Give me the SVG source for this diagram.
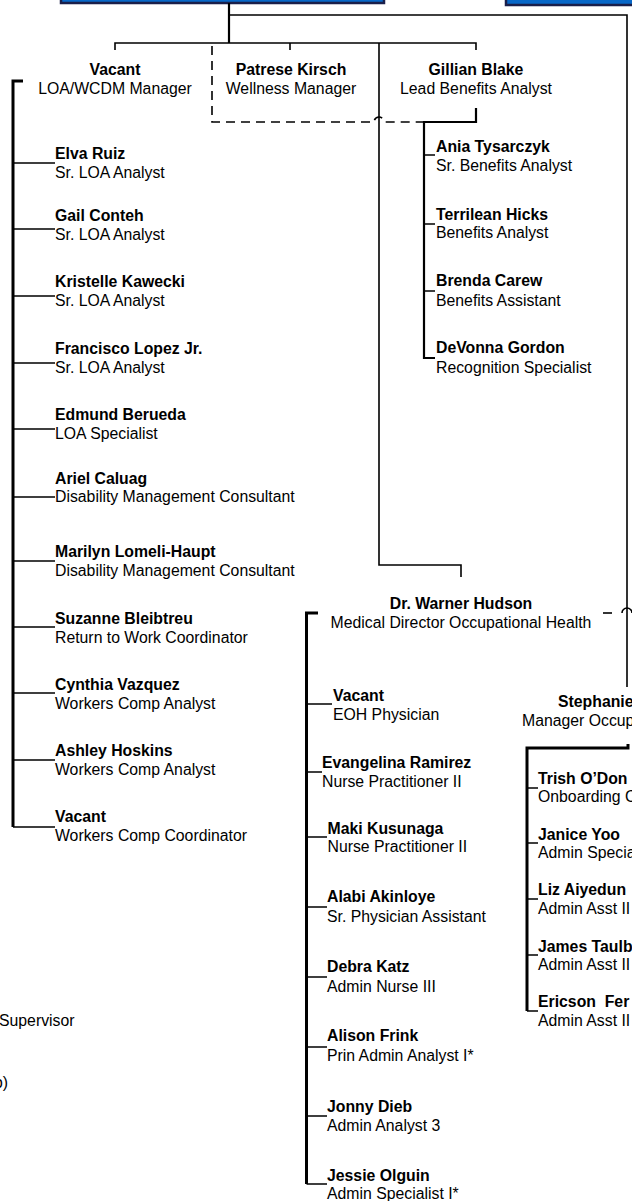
<svg xmlns="http://www.w3.org/2000/svg" width="632" height="1201" viewBox="0 0 632 1201">
<style>
text{font-family:"Liberation Sans",Arial,sans-serif;font-size:15.8px;fill:#000;white-space:pre}
.n{font-weight:bold}
.c{text-anchor:middle}
.ln{fill:none;stroke:#000;stroke-width:1.6}
.th{fill:none;stroke:#000;stroke-width:3}
.md{fill:none;stroke:#000;stroke-width:2.2}
.ds{fill:none;stroke:#000;stroke-width:1.6;stroke-dasharray:9 6}
.box{fill:#0868C8;stroke:#1a1f4a;stroke-width:2.5}
</style>
<rect width="632" height="1201" fill="#fff"/>
<g id="box-top-left"><rect class="box" x="61" y="-20" width="323" height="23"/></g>
<g id="box-top-right"><rect class="box" x="506" y="-20" width="140" height="25"/></g>
<g id="connectors">
<path class="md" d="M229,3 V43"/>
<path class="ln" d="M229,15 H627 V687"/>
<path class="ln" d="M115,50 V43 H476 V50"/>
<path class="ln" d="M290,43 V50"/>
<path class="ln" d="M379,43 V565 H461 V577"/>
<path class="ds" d="M212,46 V122 H374 A5,5 0 0 1 384,122 H424"/>
<path class="md" d="M476,108 V122 H424 V358 H435"/>
<path class="ln" d="M424,155 H435 M424,224 H435 M424,291 H435"/>
<path class="th" d="M23,81 H13 V827"/>
<path class="ln" d="M13,827 H55 M13,163 H55 M13,229 H55 M13,296 H55 M13,363 H55 M13,429 H55 M13,497 H55 M13,561 H55 M13,627 H55 M13,693 H55 M13,760 H55"/>
<path class="th" d="M318,613 H306.5 V1184"/>
<path class="ln" d="M306.5,1184 H327 M306.5,704 H332 M306.5,772 H322 M306.5,837 H327 M306.5,907 H327 M306.5,977 H327 M306.5,1047 H327 M306.5,1116 H327"/>
<path class="ds" d="M603,613 H617"/>
<path class="ln" d="M622,613 A5,5 0 0 1 632,613"/>
<path class="th" d="M628,744 V748 H527 V1011"/>
<path class="ln" d="M527,1011 H538 M527,788 H538 M527,843 H538 M527,899 H538 M527,955 H538"/>
</g>
<g id="vacant-loa"><text class="n c" x="115" y="74.5">Vacant</text><text class="c" x="115" y="93.5">LOA/WCDM Manager</text></g>
<g id="patrese-kirsch"><text class="n c" x="291" y="74.5">Patrese Kirsch</text><text class="c" x="291" y="93.5">Wellness Manager</text></g>
<g id="gillian-blake"><text class="n c" x="476" y="74.5">Gillian Blake</text><text class="c" x="476" y="93.5">Lead Benefits Analyst</text></g>
<g id="elva-ruiz"><text class="n" x="55" y="159">Elva Ruiz</text><text x="55" y="178">Sr. LOA Analyst</text></g>
<g id="gail-conteh"><text class="n" x="55" y="221">Gail Conteh</text><text x="55" y="240">Sr. LOA Analyst</text></g>
<g id="kristelle-kawecki"><text class="n" x="55" y="287">Kristelle Kawecki</text><text x="55" y="306">Sr. LOA Analyst</text></g>
<g id="francisco-lopez"><text class="n" x="55" y="354">Francisco Lopez Jr.</text><text x="55" y="373">Sr. LOA Analyst</text></g>
<g id="edmund-berueda"><text class="n" x="55" y="420">Edmund Berueda</text><text x="55" y="439">LOA Specialist</text></g>
<g id="ariel-caluag"><text class="n" x="55" y="484">Ariel Caluag</text><text x="55" y="502">Disability Management Consultant</text></g>
<g id="marilyn-lomeli-haupt"><text class="n" x="55" y="557">Marilyn Lomeli-Haupt</text><text x="55" y="576">Disability Management Consultant</text></g>
<g id="suzanne-bleibtreu"><text class="n" x="55" y="624">Suzanne Bleibtreu</text><text x="55" y="643">Return to Work Coordinator</text></g>
<g id="cynthia-vazquez"><text class="n" x="55" y="690">Cynthia Vazquez</text><text x="55" y="709">Workers Comp Analyst</text></g>
<g id="ashley-hoskins"><text class="n" x="55" y="756">Ashley Hoskins</text><text x="55" y="775">Workers Comp Analyst</text></g>
<g id="vacant-wc"><text class="n" x="55" y="822">Vacant</text><text x="55" y="841">Workers Comp Coordinator</text></g>
<g id="ania-tysarczyk"><text class="n" x="436" y="152">Ania Tysarczyk</text><text x="436" y="171">Sr. Benefits Analyst</text></g>
<g id="terrilean-hicks"><text class="n" x="436" y="219.5">Terrilean Hicks</text><text x="436" y="238">Benefits Analyst</text></g>
<g id="brenda-carew"><text class="n" x="436" y="286">Brenda Carew</text><text x="436" y="305.5">Benefits Assistant</text></g>
<g id="devonna-gordon"><text class="n" x="436" y="353">DeVonna Gordon</text><text x="436" y="373">Recognition Specialist</text></g>
<g id="warner-hudson"><text class="n c" x="461" y="608.5">Dr. Warner Hudson</text><text class="c" x="461" y="627.5">Medical Director Occupational Health</text></g>
<g id="vacant-eoh"><text class="n" x="333" y="700.5">Vacant</text><text x="333" y="719.5">EOH Physician</text></g>
<g id="evangelina-ramirez"><text class="n" x="322" y="768">Evangelina Ramirez</text><text x="322" y="787">Nurse Practitioner II</text></g>
<g id="maki-kusunaga"><text class="n" x="327.5" y="834">Maki Kusunaga</text><text x="327.5" y="852">Nurse Practitioner II</text></g>
<g id="alabi-akinloye"><text class="n" x="327" y="902">Alabi Akinloye</text><text x="327" y="922">Sr. Physician Assistant</text></g>
<g id="debra-katz"><text class="n" x="327" y="972">Debra Katz</text><text x="327" y="991.5">Admin Nurse III</text></g>
<g id="alison-frink"><text class="n" x="327" y="1041">Alison Frink</text><text x="327" y="1060.5">Prin Admin Analyst I*</text></g>
<g id="jonny-dieb"><text class="n" x="327" y="1111.5">Jonny Dieb</text><text x="327" y="1130.5">Admin Analyst 3</text></g>
<g id="jessie-olguin"><text class="n" x="327" y="1180.5">Jessie Olguin</text><text x="327" y="1199">Admin Specialist I*</text></g>
<g id="stephanie"><text class="n" x="558" y="707">Stephanie</text><text x="522" y="725.5">Manager Occup</text></g>
<g id="trish"><text class="n" x="538" y="784">Trish O’Don</text><text x="538" y="802">Onboarding C</text></g>
<g id="janice-yoo"><text class="n" x="538" y="839.5">Janice Yoo</text><text x="538" y="858">Admin Specia</text></g>
<g id="liz-aiyedun"><text class="n" x="538" y="895">Liz Aiyedun</text><text x="538" y="914">Admin Asst II</text></g>
<g id="james"><text class="n" x="538" y="951.5">James Taulb</text><text x="538" y="969.5">Admin Asst II</text></g>
<g id="ericson"><text class="n" x="538" y="1007" xml:space="preserve">Ericson  Fer</text><text x="538" y="1025.5">Admin Asst II</text></g>
<g id="legend"><text x="-1" y="1026">Supervisor</text><text x="8" y="1088" text-anchor="end">o)</text></g>
</svg>
